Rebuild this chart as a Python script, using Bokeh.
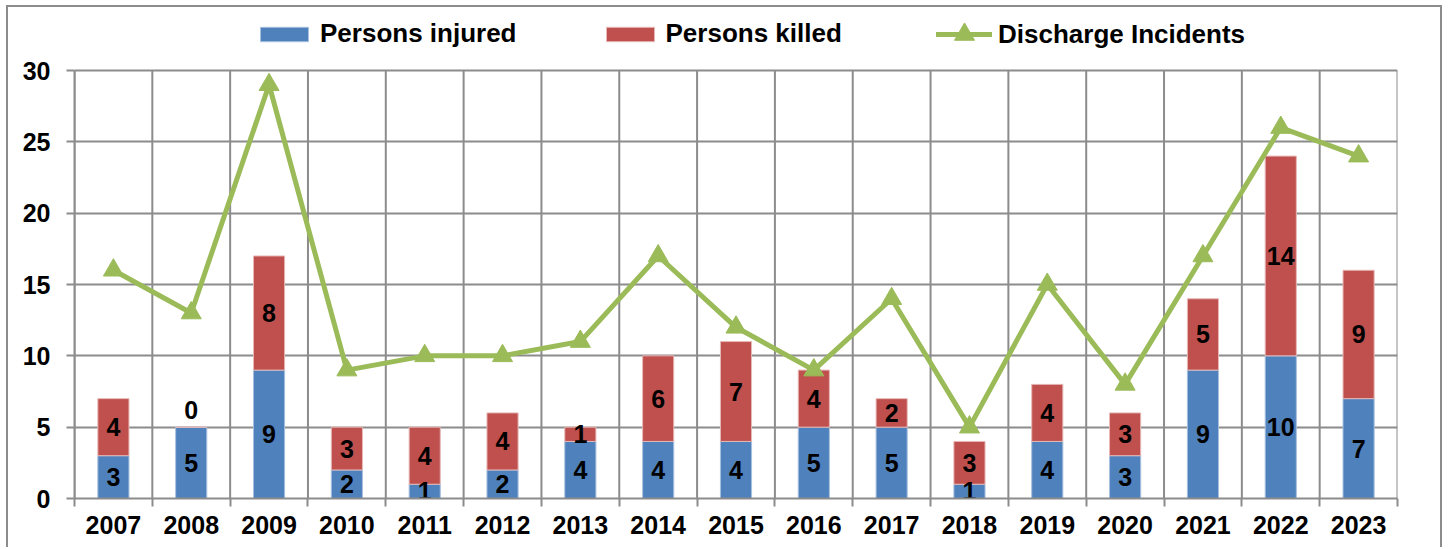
from bokeh.plotting import figure
from bokeh.models import ColumnDataSource, Range1d, FixedTicker, Legend, LegendItem
from bokeh.embed import file_html
from bokeh.resources import INLINE
from bokeh.core.properties import value

years = ["2007", "2008", "2009", "2010", "2011", "2012", "2013", "2014", "2015",
         "2016", "2017", "2018", "2019", "2020", "2021", "2022", "2023"]
injured = [3, 5, 9, 2, 1, 2, 4, 4, 4, 5, 5, 1, 4, 3, 9, 10, 7]
killed = [4, 0, 8, 3, 4, 4, 1, 6, 7, 4, 2, 3, 4, 3, 5, 14, 9]
incidents = [16, 13, 29, 9, 10, 10, 11, 17, 12, 9, 14, 5, 15, 8, 17, 26, 24]
y_ticks = [0, 5, 10, 15, 20, 25, 30]
Y_MAX = 30

BLUE = "#4F81BD"
RED = "#C0504D"
GREEN = "#9BBB59"
GRID = "#8C8C8C"
FONT = "Liberation Sans"

n = len(years)
xc = [i + 0.5 for i in range(n)]
killed_top = [a + b for a, b in zip(injured, killed)]

src = ColumnDataSource(dict(
    x=xc, year=years, injured=injured, killed=killed, top=killed_top,
    incidents=incidents,
    inj_mid=[v / 2 for v in injured],
    kil_mid=[a + b / 2 for a, b in zip(injured, killed)],
    kil_off=[-17 if b == 0 else 0 for b in killed],
    inj_txt=[str(v) for v in injured],
    kil_txt=[str(v) for v in killed],
))

# frame extends above the value area to host the legend (legend in frame is not clipped)
p = figure(width=1436, height=542, output_backend="svg", toolbar_location=None,
           x_range=Range1d(0, n), y_range=Range1d(0, 34.346),
           min_border_left=66, min_border_right=47, min_border_top=1, min_border_bottom=51)
p.styles = {"border-left": "2px solid #8C8C8C", "border-top": "2px solid #8C8C8C",
            "border-right": "2px solid #8C8C8C",
            "margin-left": "6px", "margin-top": "5px"}
p.background_fill_color = "white"
p.border_fill_color = "white"
p.outline_line_color = None

# grids
p.xgrid.visible = False
p.ygrid.ticker = FixedTicker(ticks=y_ticks)
p.ygrid.grid_line_color = GRID
p.ygrid.grid_line_width = 2
bounds = list(range(n + 1))
p.segment(x0=bounds, y0=[0] * len(bounds), x1=bounds, y1=[Y_MAX] * len(bounds),
          line_color=GRID, line_width=2)

# x axis
xa = p.xaxis[0]
xa.ticker = FixedTicker(ticks=xc, minor_ticks=bounds)
xa.major_label_overrides = {c: y for c, y in zip(xc, years)}
xa.major_tick_out = 0
xa.major_tick_in = 0
xa.minor_tick_out = 8
xa.minor_tick_in = 0
xa.minor_tick_line_color = GRID
xa.minor_tick_line_width = 2
xa.axis_line_color = GRID
xa.axis_line_width = 2
xa.major_label_standoff = 9
xa.major_label_text_font = FONT
xa.major_label_text_font_style = "bold"
xa.major_label_text_font_size = "25px"
xa.major_label_text_color = "black"

ya = p.yaxis[0]
ya.ticker = FixedTicker(ticks=y_ticks, minor_ticks=[])
ya.bounds = (0, Y_MAX)
ya.major_tick_out = 8
ya.major_tick_in = 0
ya.major_tick_line_color = GRID
ya.major_tick_line_width = 2
ya.axis_line_color = GRID
ya.axis_line_width = 2
ya.major_label_standoff = 16
ya.major_label_text_font = FONT
ya.major_label_text_font_style = "bold"
ya.major_label_text_font_size = "25px"
ya.major_label_text_color = "black"

# bars
r_inj = p.vbar(x="x", bottom=0, top="injured", width=0.4, source=src,
               fill_color=BLUE, line_color="#A7C0DE", line_width=1)
r_kil = p.vbar(x="x", bottom="injured", top="top", width=0.4, source=src,
               fill_color=RED, line_color="#E6B9B8", line_width=1)

# line
r_line = p.line(x="x", y="incidents", source=src, line_color=GREEN, line_width=5,
                line_cap="round")
r_mark = p.scatter(x="x", y="incidents", source=src, marker="triangle", size=20,
                   fill_color=GREEN, line_color=GREEN)

# data labels
p.text(x="x", y="inj_mid", text="inj_txt", source=src, text_align="center",
       text_baseline="middle", text_font=value(FONT), text_font_style="bold",
       text_font_size="25px", text_color="black")
p.text(x="x", y="kil_mid", text="kil_txt", y_offset="kil_off", source=src,
       text_align="center", text_baseline="middle", text_font=value(FONT),
       text_font_style="bold", text_font_size="25px", text_color="black")


def style_legend(lg):
    lg.padding = 0
    lg.margin = 0
    lg.border_line_color = None
    lg.background_fill_alpha = 0
    lg.label_height = 30
    lg.label_standoff = 6
    lg.spacing = 83
    lg.label_text_font = FONT
    lg.label_text_font_style = "bold"
    lg.label_text_font_size = "26px"
    lg.label_text_color = "black"


legend = Legend(items=[
    LegendItem(label="Persons injured", renderers=[r_inj]),
    LegendItem(label="Persons killed", renderers=[r_kil]),
], orientation="horizontal", location=(180, 449))
style_legend(legend)
legend.glyph_width = 60
legend.glyph_height = 18
p.add_layout(legend, "center")

legend2 = Legend(items=[
    LegendItem(label="Discharge Incidents", renderers=[r_line, r_mark]),
], orientation="horizontal", location=(862, 439))
style_legend(legend2)
legend2.glyph_width = 56
legend2.glyph_height = 50
p.add_layout(legend2, "center")

open("out.html", "w").write(file_html(p, INLINE))
